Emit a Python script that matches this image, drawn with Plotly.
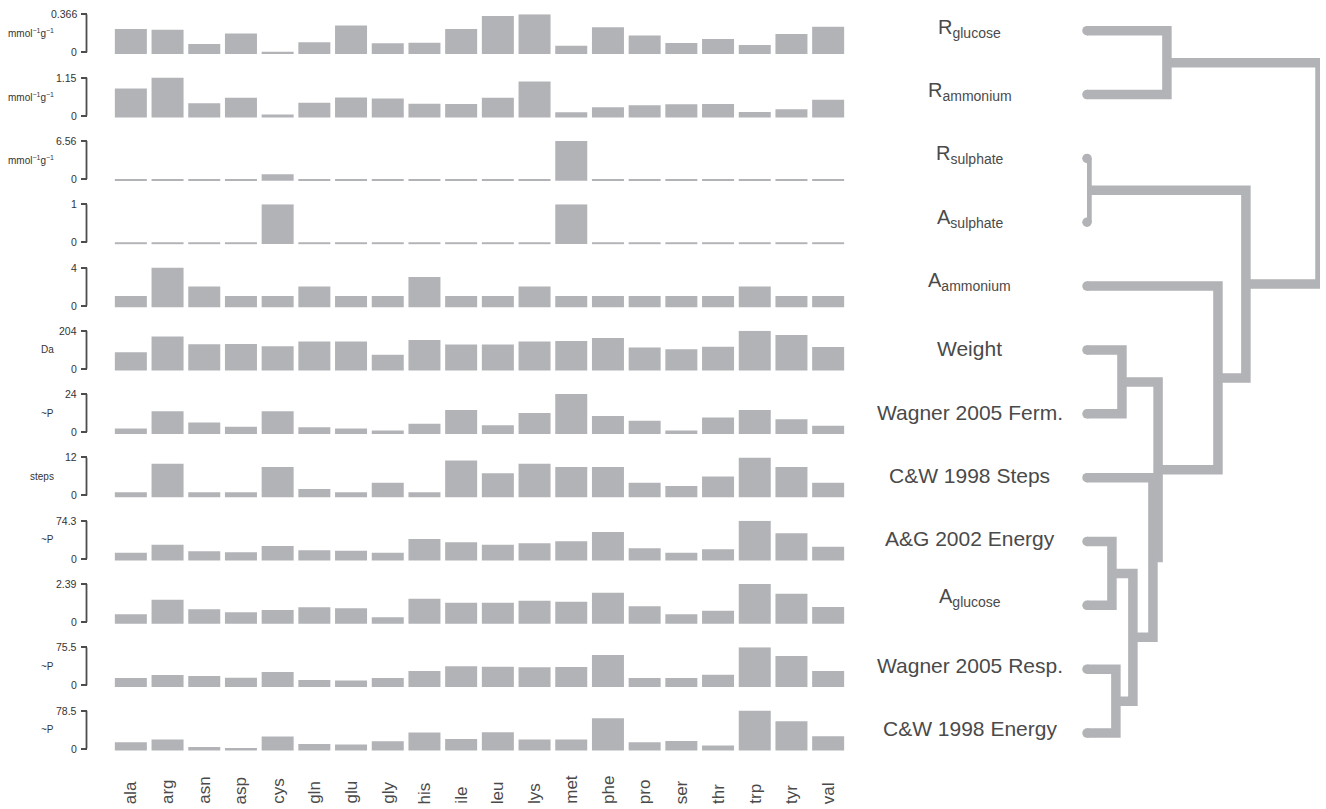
import plotly.graph_objects as go

W, H = 1326, 809

amino = ["ala", "arg", "asn", "asp", "cys", "gln", "glu", "gly", "his", "ile",
         "leu", "lys", "met", "phe", "pro", "ser", "thr", "trp", "tyr", "val"]

r_glucose = [0.225, 0.218, 0.080, 0.180, 0.006, 0.096, 0.257, 0.087, 0.093, 0.225,
             0.350, 0.366, 0.064, 0.241, 0.161, 0.090, 0.128, 0.071, 0.177, 0.247]
r_ammonium = [0.82, 1.15, 0.37, 0.54, 0.03, 0.39, 0.55, 0.52, 0.36, 0.35,
              0.54, 1.03, 0.10, 0.25, 0.31, 0.34, 0.35, 0.11, 0.19, 0.48]
r_sulphate = [0, 0, 0, 0, 0.81, 0, 0, 0, 0, 0, 0, 0, 6.56, 0, 0, 0, 0, 0, 0, 0]
a_sulphate = [0, 0, 0, 0, 1, 0, 0, 0, 0, 0, 0, 0, 1, 0, 0, 0, 0, 0, 0, 0]
a_ammonium = [1, 4, 2, 1, 1, 2, 1, 1, 3, 1, 1, 2, 1, 1, 1, 1, 1, 2, 1, 1]
weight = [89, 174, 132, 133, 121, 146, 147, 75, 155, 131,
          131, 146, 149, 165, 115, 105, 119, 204, 181, 117]
wagner_ferm = [2.3, 13.2, 6.1, 3.3, 13.2, 3.1, 2.3, 1.0, 5.2, 14.0,
               4.4, 12.1, 24.0, 10.2, 7.1, 1.0, 9.2, 14.0, 8.1, 4.0]
cw_steps = [1, 10, 1, 1, 9, 2, 1, 4, 1, 11, 7, 10, 9, 9, 4, 3, 6, 12, 9, 4]
ag_energy = [11.7, 27.3, 14.7, 12.7, 24.7, 16.3, 15.3, 11.7, 38.3, 32.3,
             27.3, 30.3, 34.3, 52.0, 20.3, 11.7, 18.7, 74.3, 50.0, 23.3]
a_glucose = [0.49, 1.40, 0.80, 0.61, 0.76, 0.93, 0.87, 0.30, 1.46, 1.21,
             1.21, 1.33, 1.27, 1.84, 0.99, 0.49, 0.70, 2.39, 1.78, 0.95]
wagner_resp = [14.6, 20.5, 18.5, 15.2, 26.5, 10.6, 9.3, 14.6, 28.5, 37.7,
               37.1, 35.8, 36.4, 60.3, 14.6, 14.6, 21.2, 75.5, 58.3, 28.5]
cw_energy = [13.1, 18.6, 3.4, 1.4, 24.8, 9.6, 8.3, 15.1, 33.1, 20.0,
             33.7, 18.6, 18.6, 62.7, 13.1, 15.8, 6.2, 78.5, 56.5, 25.5]

series = [r_glucose, r_ammonium, r_sulphate, a_sulphate, a_ammonium, weight,
          wagner_ferm, cw_steps, ag_energy, a_glucose, wagner_resp, cw_energy]
max_labels = ["0.366", "1.15", "6.56", "1", "4", "204", "24", "12", "74.3", "2.39", "75.5", "78.5"]
max_values = [0.366, 1.15, 6.56, 1, 4, 204, 24, 12, 74.3, 2.39, 75.5, 78.5]
mmol = "mmol<sup>\u22121</sup>g<sup>\u22121</sup>"
units = [mmol, mmol, mmol, "", "", "Da", "~P", "steps", "~P", "", "~P", "~P"]

row_labels = ["R<sub>glucose</sub>", "R<sub>ammonium</sub>", "R<sub>sulphate</sub>",
              "A<sub>sulphate</sub>", "A<sub>ammonium</sub>", "Weight",
              "Wagner 2005 Ferm.", "C&W 1998 Steps", "A&G 2002 Energy",
              "A<sub>glucose</sub>", "Wagner 2005 Resp.", "C&W 1998 Energy"]

# dendrogram merges: (child a, child b, height); leaves 0..11 in display order
merges = [(2, 3, 0.0), (5, 6, 0.150), (8, 9, 0.107), (10, 11, 0.124),
          (14, 15, 0.197), (7, 16, 0.283), (13, 17, 0.305), (4, 18, 0.562),
          (12, 19, 0.682), (0, 1, 0.343), (21, 20, 1.0)]

BAR = "#b2b3b7"
AX = "#4d4d4d"
TXT = "#4a4a4a"
TICKTXT = "#333333"
FONT = "Liberation Sans, Arial, sans-serif"


def fx(px):
    return px / W


def fy(px):
    return 1 - px / H


fig = go.Figure()
layout = dict(template="none", width=W, height=H, margin=dict(l=0, r=0, t=0, b=0),
              paper_bgcolor="white", plot_bgcolor="white", showlegend=False,
              bargap=0.128, font=dict(family=FONT, color=TXT))

layout["xaxis"] = dict(domain=[fx(112.5), fx(846.5)], range=[-0.5, 19.5],
                       type="category", categoryorder="array", categoryarray=amino,
                       visible=False, anchor="y")
shapes = []
annotations = []
n = len(series)
for i in range(n):
    top_px = 14.3 + 63.3 * i
    zero_px = 52.3 + 63.3 * i
    span = zero_px - top_px
    m = max_values[i]
    pad = 2.5
    strip = m * 1.8 / span  # thin baseline strip so that zero values stay visible
    yname = "y" if i == 0 else f"y{i + 1}"
    lname = "yaxis" if i == 0 else f"yaxis{i + 1}"
    layout[lname] = dict(domain=[fy(zero_px + pad), fy(top_px)],
                         range=[-m * pad / span, m], anchor="free", position=fx(86.5),
                         showgrid=False, zeroline=False, showline=False,
                         tickmode="array", tickvals=[0, m], showticklabels=False,
                         ticks="outside", ticklen=5.5, tickwidth=1.8, tickcolor=AX)
    vals = series[i]
    fig.add_trace(go.Bar(x=amino, y=[v + strip for v in vals], base=-strip,
                         customdata=vals, hovertemplate="%{x}: %{customdata}<extra></extra>",
                         marker=dict(color=BAR, line=dict(width=0)),
                         xaxis="x", yaxis=yname))
    shapes.append(dict(type="line", xref="paper", yref=yname, x0=fx(86.5), x1=fx(86.5),
                       y0=0, y1=m, line=dict(color=AX, width=1.8)))
    # tick labels of the bracket axis
    for tv, tt in ((0, "0"), (m, max_labels[i])):
        annotations.append(dict(text=tt, xref="paper", yref=yname, x=fx(77.5), y=tv,
                                xanchor="right", yanchor="middle", showarrow=False,
                                borderpad=0, font=dict(size=10.5, color=TICKTXT)))
    if units[i]:
        annotations.append(dict(text=units[i], xref="paper", yref=yname, x=fx(56), y=m / 2,
                                xanchor="right", yanchor="middle", showarrow=False,
                                font=dict(size=10, color=TICKTXT)))
    is_sub = "<sub>" in row_labels[i]
    annotations.append(dict(text=row_labels[i], xref="paper", yref=yname, x=fx(970), y=m / 2,
                            xanchor="center", yanchor="middle", showarrow=False,
                            yshift=5 if is_sub else 1,
                            font=dict(size=20 if is_sub else 21, color=TXT)))

for a in amino:
    annotations.append(dict(text=a, xref="x", yref="paper", x=a, y=fy(806),
                            xanchor="center", yanchor="bottom", textangle=-90,
                            showarrow=False, font=dict(size=17, color=TXT)))

# dendrogram
leaf_y0, leaf_dy = 30.7, 63.85
layout["xaxis2"] = dict(domain=[fx(1087), fx(1320)], range=[0, 1], visible=False, anchor="y13")
layout["yaxis13"] = dict(domain=[0, 1],
                         range=[(H - leaf_y0) / leaf_dy, -leaf_y0 / leaf_dy],
                         visible=False, anchor="x2")
pos = {k: (0.0, float(k)) for k in range(n)}
xs, ys = [], []
for j, (a, b, h) in enumerate(merges):
    xa, ya = pos[a]
    xb, yb = pos[b]
    xs += [xa, h, h, xb, None]
    ys += [ya, ya, yb, yb, None]
    pos[n + j] = (h, (ya + yb) / 2)
fig.add_trace(go.Scatter(x=xs, y=ys, mode="lines", xaxis="x2", yaxis="y13", cliponaxis=False,
                         line=dict(color=BAR, width=9.5), hoverinfo="skip"))
fig.add_trace(go.Scatter(x=[0.0] * n, y=list(range(n)), mode="markers", xaxis="x2", yaxis="y13",
                         cliponaxis=False,
                         marker=dict(color=BAR, size=9.5, line=dict(width=0)), hoverinfo="skip"))

layout["shapes"] = shapes
layout["annotations"] = annotations
fig.update_layout(**layout)
fig.write_html("out.html", config={"displayModeBar": False},
               post_script="document.body.style.margin='0';document.body.style.overflow='hidden';")
